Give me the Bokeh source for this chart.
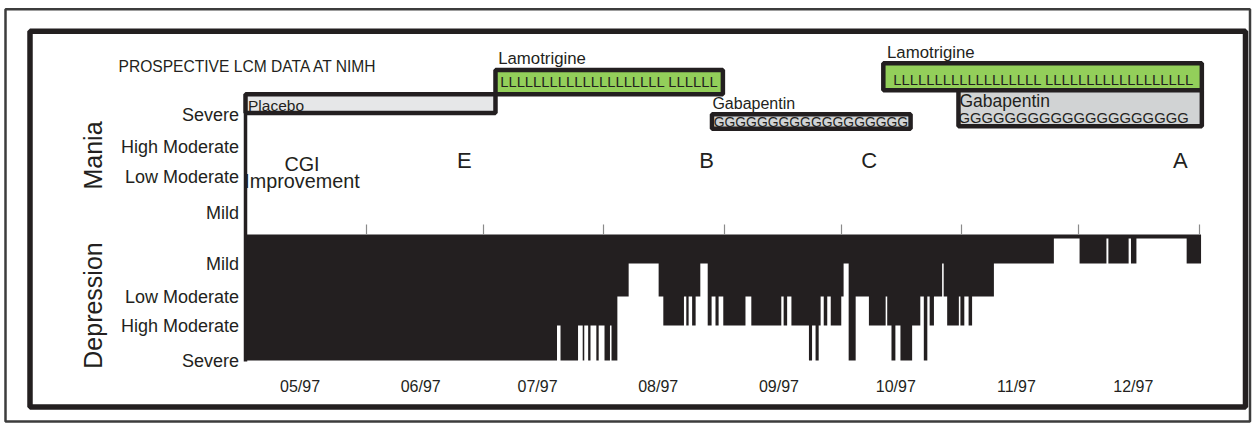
import numpy as np
from bokeh.plotting import figure
from bokeh.models import Range1d, LinearAxis, FixedTicker
from bokeh.core.properties import value
from bokeh.embed import file_html
from bokeh.resources import INLINE

# ------------------------------------------------------------------ data
TITLE = "PROSPECTIVE LCM DATA AT NIMH"
MONTH_LABELS = ["05/97", "06/97", "07/97", "08/97", "09/97", "10/97", "11/97", "12/97"]
MONTH_STARTS = [0, 31, 61, 92, 123, 153, 184, 214, 245]      # days since 1997-05-01
MONTH_LABEL_DAYS = [14, 45, 75, 106, 137, 167, 198, 228]

MANIA_LABELS = ["Severe", "High Moderate", "Low Moderate", "Mild"]
DEP_LABELS = ["Mild", "Low Moderate", "High Moderate", "Severe"]

# depression rating: start day of each step and its level (0 none .. 4 severe)
DEP_START = [0.0, 80.0, 80.9, 85.4, 86.6, 87.0, 88.0, 88.6, 90.1, 90.7, 92.2, 93.6, 94.0,
             95.5, 98.4, 106.1, 107.3, 112.6, 113.2, 113.8, 114.7, 115.6, 116.8, 118.7,
             119.7, 120.7, 121.5, 122.7, 128.4, 129.9, 137.6, 138.2, 139.1, 140.2, 144.7,
             145.5, 146.4, 147.2, 147.7, 148.5, 149.4, 150.3, 153.0, 153.6, 154.9, 156.7,
             160.1, 164.4, 164.8, 165.9, 166.9, 168.2, 171.2, 173.3, 174.2, 175.1, 175.7,
             176.8, 178.9, 179.3, 180.2, 183.2, 183.6, 184.6, 185.7, 186.6, 192.2, 207.6,
             214.2, 221.1, 221.6, 226.8, 227.4, 228.8, 241.7]
DEP_LEVEL = [4, 3, 4, 3, 4, 3, 4, 3, 4, 3, 4, 3, 4,
             2, 1, 2, 3, 2, 3, 2, 3, 2, 1, 3,
             2, 3, 2, 3, 2, 3, 2, 3, 2, 3, 4,
             3, 4, 3, 2, 3, 2, 3, 2, 1, 4, 2,
             3, 2, 3, 4, 3, 4, 3, 2, 4, 2, 3,
             2, 1, 2, 3, 2, 3, 2, 3, 2, 1, 0,
             1, 0, 1, 0, 1, 0, 1]
DEP_END = 245.4

DRUG_NAMES = ["Placebo", "Lamotrigine", "Gabapentin", "Lamotrigine", "Gabapentin"]
DRUG_START = [0.0, 64.2, 119.8, 163.8, 183.1]
DRUG_END = [64.2, 122.6, 170.8, 245.6, 245.6]
DRUG_CODES = ["", "L" * 20 + " " + "L" * 6, "G" * 18, "L" * 18 + " " + "L" * 18, "G" * 20]

NOTE_LINES = ["CGI", "Improvement"]
EPISODE_LABELS = ["E", "B", "C", "A"]
EPISODE_DAYS = [56.2, 118.4, 160.2, 240.1]

# ------------------------------------------------------------------ layout (page pixels)
INK = "#231f20"
FONT = "Liberation Sans"
W, H = 1252, 423
DAY0, KX = 245.0, (1199.0 - 245.0) / 245.0
BASE, KY = 234.0, 31.5


def X(px):
    return (px - DAY0) / KX


def Y(py):
    return (BASE - py) / KY


MANIA_Y = [Y(114.5), Y(146.0), Y(176.5), Y(212.0)]
LEVEL_Y = {0: Y(238.0), 1: Y(263.0), 2: Y(296.0), 3: Y(325.0), 4: Y(360.0)}
DRUG_ROWS = [(Y(93.7), Y(112.5)), (Y(69.5), Y(93.7)), (Y(113.8), Y(128.3)),
             (Y(62.8), Y(89.7)), (Y(89.7), Y(125.8))]
DRUG_FILL = {"Placebo": "#e6e7e8", "Lamotrigine": "#93cf5a", "Gabapentin": "#d1d3d4"}
# name label: (dx px from box start, vertical centre py, size px)
NAME_POS = [(2.5, 104.7, 15.5), (2.7, 58.0, 16.8), (0.4, 103.0, 16), (3.7, 51.7, 16.8),
            (1.0, 100.0, 17.5)]
CODE_POS = [(0, 0, 15), (4.7, 81.7, 14.8), (1.7, 121.0, 13.9), (10.0, 79.2, 14.8),
            (0.0, 117.5, 14.8)]

p = figure(width=W, height=H, output_backend="svg", toolbar_location=None, title=None,
           x_range=Range1d(X(0), X(W)), y_range=Range1d(Y(H), Y(0)),
           x_axis_location=None, y_axis_location=None, min_border=0)
p.background_fill_color = "white"
p.border_fill_color = "white"
p.outline_line_color = None
p.xgrid.grid_line_color = None
p.ygrid.grid_line_color = None

# outer thin frame and inner thick frame
p.quad(left=[X(5.0)], right=[X(1249.5)], top=[Y(8.7)], bottom=[Y(421.0)],
       fill_color=None, line_color="#3c3c3c", line_width=2.5)
p.quad(left=[X(29.5)], right=[X(1245.0)], top=[Y(30.8)], bottom=[Y(406.5)],
       fill_color=None, line_color=INK, line_width=5.5)

# depression step area
xs, ys = [DEP_START[0]], [0.0]
ends = DEP_START[1:] + [DEP_END]
for s, e, lv in zip(DEP_START, ends, DEP_LEVEL):
    xs += [s, e]
    ys += [LEVEL_Y[lv], LEVEL_Y[lv]]
xs.append(DEP_END)
ys.append(0.0)
p.patch(xs, ys, fill_color=INK, line_color=None)

# drug boxes
p.quad(left=DRUG_START, right=DRUG_END,
       top=[r[0] for r in DRUG_ROWS], bottom=[r[1] for r in DRUG_ROWS],
       fill_color=[DRUG_FILL[n] for n in DRUG_NAMES], line_color=INK, line_width=4.5)
for i, name in enumerate(DRUG_NAMES):
    dx, cy, fs = NAME_POS[i]
    p.text(x=[DRUG_START[i] + dx / KX], y=[Y(cy)], text=[name], text_font=value(FONT),
           text_font_size=value(f"{fs}px"), text_color=INK, text_baseline="middle",
           text_align="left")
    if DRUG_CODES[i]:
        dx, cy, fs = CODE_POS[i]
        p.text(x=[DRUG_START[i] + dx / KX], y=[Y(cy)], text=[DRUG_CODES[i]],
               text_font=value(FONT), text_font_size=value(f"{fs}px"), text_color=INK,
               text_baseline="middle", text_align="left")

# title, side labels, annotations
p.text(x=[X(118.0)], y=[Y(65.9)], text=[TITLE], text_font=value(FONT),
       text_font_size=value("15.6px"), text_color=INK, text_baseline="middle")
p.text(x=[X(92.0), X(92.0)], y=[Y(155.0), Y(305.0)], text=["Mania", "Depression"],
       angle=np.pi / 2, text_font=value(FONT), text_font_size=value("25px"),
       text_color=INK, text_align="center", text_baseline="middle")
p.text(x=[X(301.5), X(301.5)], y=[Y(163.5), Y(180.3)], text=NOTE_LINES, text_font=value(FONT),
       text_font_size=value("19.8px"), text_color=INK, text_align="center",
       text_baseline="middle")
p.text(x=EPISODE_DAYS, y=[Y(159.5)] * len(EPISODE_DAYS), text=EPISODE_LABELS,
       text_font=value(FONT), text_font_size=value("22px"), text_color=INK,
       text_align="center", text_baseline="middle")

# y axis (mania / depression levels)
yticks = MANIA_Y + [LEVEL_Y[1], LEVEL_Y[2], LEVEL_Y[3], LEVEL_Y[4]]
ylabels = MANIA_LABELS + DEP_LABELS
yax = LinearAxis(fixed_location=X(244.5), ticker=FixedTicker(ticks=yticks),
                 major_label_overrides={t: l for t, l in zip(yticks, ylabels)},
                 bounds=(Y(361.0), Y(113.0)), axis_line_color=INK, axis_line_width=3.5,
                 major_tick_line_color=None, minor_tick_line_color=None,
                 major_tick_in=0, major_tick_out=0, major_label_standoff=6,
                 major_label_text_font=FONT, major_label_text_font_size="18px",
                 major_label_text_color=INK)
p.add_layout(yax, "left")

# month labels
xax = LinearAxis(fixed_location=Y(362.0), ticker=FixedTicker(ticks=MONTH_LABEL_DAYS),
                 major_label_overrides={d: l for d, l in zip(MONTH_LABEL_DAYS, MONTH_LABELS)},
                 axis_line_color=None, major_tick_line_color=None, minor_tick_line_color=None,
                 major_tick_in=0, major_tick_out=0, major_label_standoff=15,
                 major_label_text_font=FONT, major_label_text_font_size="16px",
                 major_label_text_color=INK)
p.add_layout(xax, "below")

# month boundary ticks on the baseline
tax = LinearAxis(fixed_location=0.0, ticker=FixedTicker(ticks=MONTH_STARTS[1:]),
                 major_label_overrides={d: "" for d in MONTH_STARTS[1:]},
                 axis_line_color=None, minor_tick_line_color=None,
                 major_tick_in=0, major_tick_out=10, major_tick_line_color="#8a8a8a",
                 major_tick_line_width=1.2, major_label_text_font_size="1px")
p.add_layout(tax, "above")

open("out.html", "w").write(file_html(p, INLINE))
